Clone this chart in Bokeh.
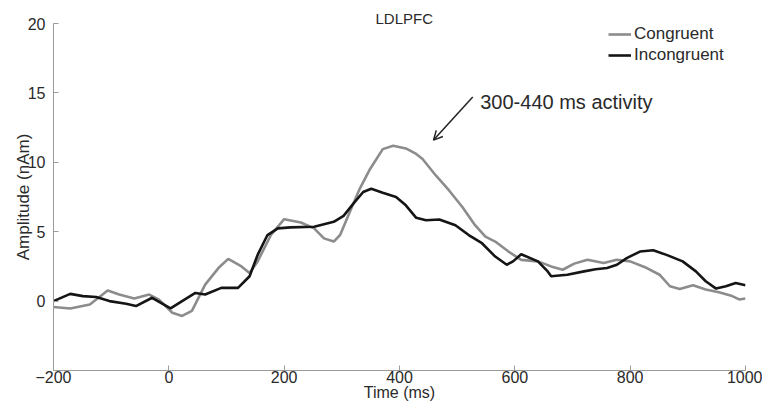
from bokeh.plotting import figure
from bokeh.models import (Range1d, FixedTicker, Label, Arrow, OpenHead, Legend, LegendItem,
                          LinearAxis)
from bokeh.embed import file_html
from bokeh.resources import INLINE

# ---- data ----
cong_t = [-200, -171, -137, -106, -86, -60, -34, -17, 6, 23, 40, 63, 86, 103, 126, 140, 154, 177,
          200, 229, 252, 269, 286, 297, 314, 331, 349, 371, 389, 411, 429, 440, 463, 486, 509, 531,
          549, 566, 589, 611, 640, 663, 683, 703, 726, 754, 777, 800, 829, 851, 869, 886, 909, 931,
          954, 977, 989, 1000]
cong_v = [-0.43, -0.53, -0.24, 0.76, 0.47, 0.19, 0.47, 0.11, -0.84, -1.07, -0.71, 1.19, 2.38, 3.04,
          2.5, 2.02, 2.86, 4.76, 5.9, 5.66, 5.24, 4.52, 4.29, 4.76, 6.43, 8.09, 9.52, 10.95, 11.19,
          11.0, 10.6, 10.24, 9.05, 7.97, 6.78, 5.47, 4.64, 4.29, 3.57, 2.97, 2.86, 2.5, 2.26, 2.7,
          2.98, 2.74, 2.98, 2.86, 2.38, 1.9, 1.07, 0.88, 1.14, 0.83, 0.64, 0.36, 0.12, 0.19]

incong_t = [-200, -171, -149, -126, -103, -74, -57, -29, 3, 23, 46, 63, 91, 120, 140, 154, 171, 189,
            211, 252, 286, 303, 320, 337, 351, 371, 394, 411, 429, 446, 469, 497, 520, 543, 566, 586,
            597, 611, 640, 657, 663, 691, 720, 740, 760, 777, 794, 817, 840, 863, 891, 914, 931, 949,
            966, 983, 1000]
incong_v = [0, 0.52, 0.36, 0.29, 0, -0.19, -0.36, 0.24, -0.53, 0, 0.59, 0.47, 0.95, 0.95, 1.79, 3.33,
            4.76, 5.24, 5.31, 5.36, 5.71, 6.14, 7.02, 7.86, 8.09, 7.8, 7.5, 6.9, 6.0, 5.83, 5.88, 5.47,
            4.76, 4.17, 3.21, 2.62, 2.86, 3.38, 2.86, 2.14, 1.79, 1.9, 2.14, 2.3, 2.38, 2.62, 3.1, 3.57,
            3.66, 3.33, 2.86, 2.14, 1.43, 0.9, 1.07, 1.31, 1.14]

x_ticks = [-200, 0, 200, 400, 600, 800, 1000]
y_ticks = [0, 5, 10, 15, 20]
series_names = ["Congruent", "Incongruent"]
title_text = "LDLPFC"
note_text = "300-440 ms activity"

FONT = "Liberation Sans"
AXIS_COLOR = "#9a9a9a"
TEXT_COLOR = "#2a2a2a"

p = figure(width=762, height=403, output_backend="svg", toolbar_location=None,
           x_range=Range1d(-200, 1000), y_range=Range1d(-5, 20),
           x_axis_type=None, y_axis_type=None,
           min_border_left=53, min_border_right=17, min_border_top=23, min_border_bottom=31)
p.outline_line_color = None
p.grid.visible = False
p.background_fill_color = "white"
p.border_fill_color = "white"

p.title.text = title_text
p.title.align = "left"
p.title.offset = 322
p.title.text_font = FONT
p.title.text_font_size = "15px"
p.title.text_font_style = "normal"
p.title.text_color = TEXT_COLOR
p.title.standoff = -6

xaxis = LinearAxis(ticker=FixedTicker(ticks=x_ticks), axis_label="Time (ms)")
yaxis = LinearAxis(ticker=FixedTicker(ticks=y_ticks), axis_label="Amplitude (nAm)")
for ax in (xaxis, yaxis):
    ax.axis_line_color = AXIS_COLOR
    ax.major_tick_line_color = AXIS_COLOR
    ax.major_tick_in = 5
    ax.major_tick_out = 0
    ax.minor_tick_line_color = None
    ax.major_label_text_font = FONT
    ax.major_label_text_font_size = "16px"
    ax.major_label_text_color = TEXT_COLOR
    ax.axis_label_text_font = FONT
    ax.axis_label_text_font_size = "16px"
    ax.axis_label_text_font_style = "normal"
    ax.axis_label_text_color = TEXT_COLOR
xaxis.major_label_standoff = 0
xaxis.axis_label_standoff = -2
yaxis.major_label_standoff = 8
yaxis.axis_label_standoff = -8
yaxis.axis_label_text_font_size = "17px"
p.add_layout(xaxis, "below")
p.add_layout(yaxis, "left")

r1 = p.line(cong_t, cong_v, line_color="#8c8c8c", line_width=2.6)
r2 = p.line(incong_t, incong_v, line_color="#151515", line_width=2.6)

legend = Legend(items=[LegendItem(label=series_names[0], renderers=[r1]),
                       LegendItem(label=series_names[1], renderers=[r2])],
                location=(555, 305), orientation="vertical",
                border_line_color=None, background_fill_alpha=0,
                padding=0, margin=0, spacing=1, glyph_width=23, glyph_height=20,
                label_standoff=3, label_text_font=FONT, label_text_font_size="17px",
                label_text_color=TEXT_COLOR, label_height=20)
p.add_layout(legend)

p.add_layout(Label(x=540, y=14.35, text=note_text, text_font=FONT, text_font_size="20px",
                   text_color=TEXT_COLOR, text_align="left", text_baseline="middle"))
p.add_layout(Arrow(x_start=527, y_start=14.7, x_end=459, y_end=11.6, line_color="#222222",
                   line_width=1.5, end=OpenHead(size=9, line_color="#222222", line_width=1.5)))

open("out.html", "w").write(file_html(p, INLINE))
